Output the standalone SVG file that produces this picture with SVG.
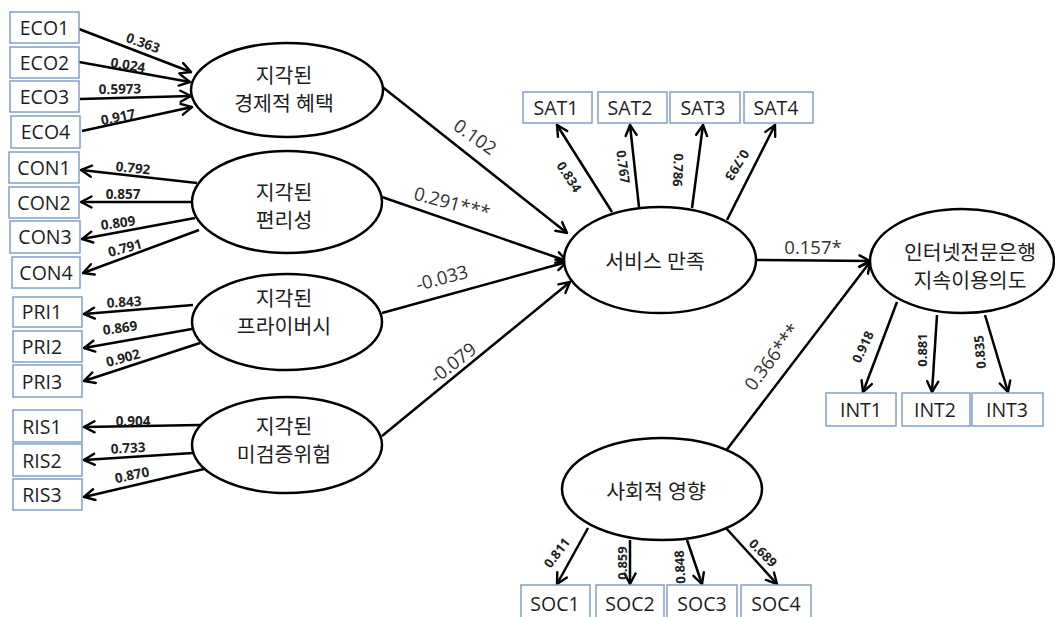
<svg xmlns="http://www.w3.org/2000/svg" width="1055" height="617" viewBox="0 0 1055 617">
<style>
text{font-family:"Open Sans","Noto Sans CJK KR",sans-serif}
.box{fill:#fff;stroke:#809fc8;stroke-width:1.5}
.bt{font-size:19.5px;fill:#1e1e1e;text-anchor:middle}
.ell{fill:#fff;stroke:#000;stroke-width:2.5}
.et{font-size:20.5px;fill:#1e1e1e;text-anchor:middle}
.c{stroke:#000;stroke-width:2.5;fill:none;marker-end:url(#ah)}
.ld{font-size:13.5px;font-weight:bold;fill:#222;text-anchor:middle}
.ls{font-size:13px;font-weight:bold;fill:#222;text-anchor:middle}
.st{font-size:18.5px;fill:#333;text-anchor:middle}
</style>
<defs>
<marker id="ah" viewBox="0 0 14 14" refX="12.5" refY="7" markerWidth="14" markerHeight="14" markerUnits="userSpaceOnUse" orient="auto">
<path d="M2,1.5 L12.5,7 L2,12.5" fill="none" stroke="#000" stroke-width="2.4" stroke-linecap="round" stroke-linejoin="miter"/>
</marker>
</defs>
<rect width="1055" height="617" fill="#fff"/>
<g id="connectors">
<line class="c" x1="79" y1="29" x2="191" y2="72"/>
<line class="c" x1="79" y1="62" x2="190" y2="82"/>
<line class="c" x1="80" y1="99" x2="191" y2="96"/>
<line class="c" x1="82" y1="131" x2="192" y2="107"/>
<line class="c" x1="197" y1="183" x2="81" y2="170"/>
<line class="c" x1="192" y1="202" x2="81" y2="202"/>
<line class="c" x1="195" y1="218" x2="82" y2="239"/>
<line class="c" x1="199" y1="230" x2="83" y2="273"/>
<line class="c" x1="193" y1="305" x2="84" y2="314"/>
<line class="c" x1="192" y1="329" x2="84" y2="348"/>
<line class="c" x1="200" y1="343" x2="84" y2="381"/>
<line class="c" x1="200" y1="425" x2="84" y2="427"/>
<line class="c" x1="193" y1="453" x2="84" y2="460"/>
<line class="c" x1="204" y1="469" x2="84" y2="497"/>
<line class="c" x1="380" y1="85" x2="567" y2="233"/>
<line class="c" x1="382" y1="197" x2="567" y2="261"/>
<line class="c" x1="382" y1="313" x2="567" y2="262"/>
<line class="c" x1="382" y1="436" x2="570" y2="282"/>
<line class="c" x1="755" y1="260" x2="870" y2="261"/>
<line class="c" x1="725" y1="452" x2="870" y2="262"/>
<line class="c" x1="612" y1="212" x2="557" y2="125"/>
<line class="c" x1="639" y1="207" x2="630" y2="125"/>
<line class="c" x1="692" y1="208" x2="703" y2="125"/>
<line class="c" x1="727" y1="220" x2="775" y2="125"/>
<line class="c" x1="897" y1="302" x2="863" y2="392"/>
<line class="c" x1="937" y1="315" x2="932" y2="392"/>
<line class="c" x1="985" y1="315" x2="1008" y2="392"/>
<line class="c" x1="588" y1="528" x2="557" y2="584"/>
<line class="c" x1="630" y1="540" x2="630" y2="584"/>
<line class="c" x1="687" y1="540" x2="702" y2="584"/>
<line class="c" x1="725" y1="527" x2="777" y2="584"/>
<text class="ld" transform="translate(143,43) rotate(20)" dy=".35em">0.363</text>
<text class="ld" transform="translate(128,65) rotate(9)" dy=".35em">0.024</text>
<text class="ld" transform="translate(120,89) rotate(-1)" dy=".35em">0.5973</text>
<text class="ld" transform="translate(118,117) rotate(-12)" dy=".35em">0.917</text>
<text class="ld" transform="translate(133,168) rotate(6)" dy=".35em">0.792</text>
<text class="ld" transform="translate(123,194)" dy=".35em">0.857</text>
<text class="ld" transform="translate(118,223) rotate(-8)" dy=".35em">0.809</text>
<text class="ld" transform="translate(125,248) rotate(-15)" dy=".35em">0.791</text>
<text class="ld" transform="translate(124,302) rotate(-3)" dy=".35em">0.843</text>
<text class="ld" transform="translate(120,328) rotate(-8)" dy=".35em">0.869</text>
<text class="ld" transform="translate(123,358) rotate(-15)" dy=".35em">0.902</text>
<text class="ld" transform="translate(133,421)" dy=".35em">0.904</text>
<text class="ld" transform="translate(128,448) rotate(-3)" dy=".35em">0.733</text>
<text class="ld" transform="translate(132,475) rotate(-12)" dy=".35em">0.870</text>
<text class="ls" transform="translate(569,177) rotate(57)" dy=".35em">0.834</text>
<text class="ls" transform="translate(623,167) rotate(82)" dy=".35em">0.767</text>
<text class="ls" transform="translate(678,170) rotate(92)" dy=".35em">0.786</text>
<text class="ls" transform="translate(737,165) rotate(122)" dy=".35em">0.793</text>
<text class="ls" transform="translate(863,347) rotate(-65)" dy=".35em">0.918</text>
<text class="ls" transform="translate(922,350) rotate(-90)" dy=".35em">0.881</text>
<text class="ls" transform="translate(980,352) rotate(-95)" dy=".35em">0.835</text>
<text class="ls" transform="translate(557,553) rotate(-53)" dy=".35em">0.811</text>
<text class="ls" transform="translate(622,563) rotate(-90)" dy=".35em">0.859</text>
<text class="ls" transform="translate(680,567) rotate(-93)" dy=".35em">0.848</text>
<text class="ls" transform="translate(763,553) rotate(45)" dy=".35em">0.689</text>
<text class="st" transform="translate(475,137) rotate(35)" dy=".35em">0.102</text>
<text class="st" transform="translate(452,203) rotate(15)" dy=".35em">0.291***</text>
<text class="st" transform="translate(442,278) rotate(-15)" dy=".35em">-0.033</text>
<text class="st" transform="translate(453,363) rotate(-38)" dy=".35em">-0.079</text>
<text class="st" transform="translate(813,248)" dy=".35em">0.157*</text>
<text class="st" transform="translate(772,357) rotate(-53)" dy=".35em">0.366***</text>
</g>
<g id="ECO1"><rect class="box" x="10" y="12" width="69" height="31"/><text class="bt" x="44.5" y="34.5">ECO1</text></g>
<g id="ECO2"><rect class="box" x="10" y="47" width="69" height="31"/><text class="bt" x="44.5" y="69.5">ECO2</text></g>
<g id="ECO3"><rect class="box" x="10" y="81" width="69" height="31"/><text class="bt" x="44.5" y="103.5">ECO3</text></g>
<g id="ECO4"><rect class="box" x="11" y="116" width="69" height="32"/><text class="bt" x="45.5" y="138.5">ECO4</text></g>
<g id="CON1"><rect class="box" x="9" y="152" width="70" height="31"/><text class="bt" x="44" y="174.5">CON1</text></g>
<g id="CON2"><rect class="box" x="9" y="187" width="70" height="31"/><text class="bt" x="44" y="209.5">CON2</text></g>
<g id="CON3"><rect class="box" x="10" y="221" width="70" height="32"/><text class="bt" x="45" y="243.5">CON3</text></g>
<g id="CON4"><rect class="box" x="12" y="257" width="68" height="31"/><text class="bt" x="46" y="279.5">CON4</text></g>
<g id="PRI1"><rect class="box" x="13" y="297" width="69" height="30"/><text class="bt" x="42" y="318.5">PRI1</text></g>
<g id="PRI2"><rect class="box" x="13" y="331" width="69" height="31"/><text class="bt" x="42" y="353.5">PRI2</text></g>
<g id="PRI3"><rect class="box" x="13" y="365" width="69" height="32"/><text class="bt" x="42" y="388.5">PRI3</text></g>
<g id="RIS1"><rect class="box" x="13" y="410" width="69" height="32"/><text class="bt" x="42" y="433.5">RIS1</text></g>
<g id="RIS2"><rect class="box" x="13" y="444" width="69" height="32"/><text class="bt" x="42" y="467.5">RIS2</text></g>
<g id="RIS3"><rect class="box" x="13" y="479" width="69" height="31"/><text class="bt" x="42" y="501.5">RIS3</text></g>
<g id="SAT1"><rect class="box" x="523" y="92" width="69" height="31"/><text class="bt" x="556" y="114.5">SAT1</text></g>
<g id="SAT2"><rect class="box" x="598" y="92" width="69" height="31"/><text class="bt" x="630" y="114.5">SAT2</text></g>
<g id="SAT3"><rect class="box" x="670" y="92" width="70" height="31"/><text class="bt" x="703" y="114.5">SAT3</text></g>
<g id="SAT4"><rect class="box" x="744" y="92" width="69" height="31"/><text class="bt" x="776" y="114.5">SAT4</text></g>
<g id="INT1"><rect class="box" x="826" y="393" width="70" height="33"/><text class="bt" x="861" y="416.5">INT1</text></g>
<g id="INT2"><rect class="box" x="902" y="393" width="68" height="33"/><text class="bt" x="935" y="416.5">INT2</text></g>
<g id="INT3"><rect class="box" x="972" y="393" width="71" height="33"/><text class="bt" x="1007" y="416.5">INT3</text></g>
<g id="SOC1"><rect class="box" x="521" y="585" width="69" height="34"/><text class="bt" x="555" y="611">SOC1</text></g>
<g id="SOC2"><rect class="box" x="596" y="585" width="68" height="34"/><text class="bt" x="630" y="611">SOC2</text></g>
<g id="SOC3"><rect class="box" x="667" y="585" width="70" height="34"/><text class="bt" x="702" y="611">SOC3</text></g>
<g id="SOC4"><rect class="box" x="741" y="585" width="70" height="34"/><text class="bt" x="776" y="611">SOC4</text></g>
<g id="ECO"><ellipse class="ell" cx="287" cy="90" rx="96" ry="47"/><text class="et" x="284" y="82.5">지각된</text><text class="et" x="284" y="110.5">경제적 혜택</text></g>
<g id="CON"><ellipse class="ell" cx="287" cy="202" rx="95" ry="51"/><text class="et" x="284" y="199.5">지각된</text><text class="et" x="284" y="227.5">편리성</text></g>
<g id="PRI"><ellipse class="ell" cx="287" cy="322" rx="95" ry="48"/><text class="et" x="284" y="306">지각된</text><text class="et" x="284" y="334">프라이버시</text></g>
<g id="RIS"><ellipse class="ell" cx="287" cy="445" rx="95" ry="48"/><text class="et" x="284" y="434">지각된</text><text class="et" x="284" y="462">미검증위험</text></g>
<g id="SAT"><ellipse class="ell" cx="660" cy="260" rx="96" ry="53"/><text class="et" x="655" y="269">서비스 만족</text></g>
<g id="INT"><ellipse class="ell" cx="962" cy="261" rx="92" ry="52"/><text class="et" x="970" y="259.5">인터넷전문은행</text><text class="et" x="970" y="287.5">지속이용의도</text></g>
<g id="SOC"><ellipse class="ell" cx="662" cy="489" rx="100" ry="51"/><text class="et" x="656" y="499">사회적 영향</text></g>
</svg>
